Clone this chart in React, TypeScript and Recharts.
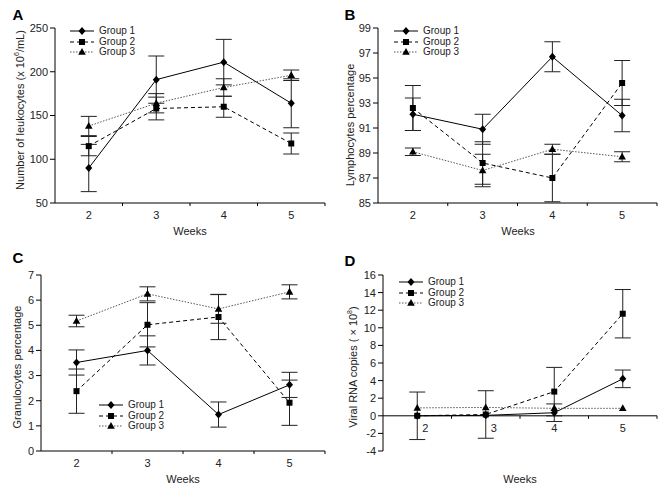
import { ErrorBar, Line, LineChart, ReferenceLine, XAxis, YAxis } from "recharts"

const FONT = "'Liberation Sans', Arial, Helvetica, sans-serif"

const weeks = [2, 3, 4, 5]
const weekTicks = [2, 2.5, 3, 3.5, 4, 4.5, 5, 5.5]

// A: leukocytes
const leukoG1 = [90, 191, 211, 164]
const leukoG1Err = [27, 27, 26, 28]
const leukoG2 = [115, 158, 160, 118]
const leukoG2Err = [11, 13, 12, 12]
const leukoG3 = [138, 164, 182, 196]
const leukoG3Err = [11, 11, 10, 6]
const leukoTicks = [50, 100, 150, 200, 250]

// B: lymphocytes
const lymphoG1 = [92.1, 90.9, 96.7, 92.0]
const lymphoG1Err = [1.3, 1.2, 1.2, 1.3]
const lymphoG2 = [92.6, 88.2, 87.0, 94.6]
const lymphoG2Err = [1.8, 1.7, 1.9, 1.8]
const lymphoG3 = [89.1, 87.6, 89.3, 88.7]
const lymphoG3Err = [0.3, 1.3, 0.4, 0.4]
const lymphoTicks = [85, 87, 89, 91, 93, 95, 97, 99]

// C: granulocytes
const granG1 = [3.52, 4.0, 1.45, 2.63]
const granG1Err = [0.5, 0.58, 0.5, 0.5]
const granG2 = [2.38, 5.02, 5.33, 1.92]
const granG2Err = [0.88, 0.88, 0.9, 0.9]
const granG3 = [5.17, 6.25, 5.65, 6.33]
const granG3Err = [0.23, 0.28, 0.57, 0.28]
const granTicks = [0, 1, 2, 3, 4, 5, 6, 7]

// D: viral RNA
const viralG1 = [0, 0.05, 0.35, 4.2]
const viralG1Err = [null, null, 1.0, 1.0]
const viralG2 = [0, 0.15, 2.75, 11.6]
const viralG2Err = [2.7, 2.7, 2.75, 2.75]
const viralG3 = [0.9, 0.95, 0.85, 0.85]
const viralG3Err = [null, null, null, null]
const viralTicks = [-4, -2, 0, 2, 4, 6, 8, 10, 12, 14, 16]

const groups = [
  { key: "g1", err: "e1", name: "Group 1", shape: "diamond", stroke: "#000", dash: undefined },
  { key: "g2", err: "e2", name: "Group 2", shape: "square", stroke: "#000", dash: "4 3" },
  { key: "g3", err: "e3", name: "Group 3", shape: "triangle", stroke: "#555", dash: "1.5 1.5" },
]

function rows(g1, e1, g2, e2, g3, e3) {
  return weeks.map((w, i) => ({ week: w, g1: g1[i], e1: e1[i], g2: g2[i], e2: e2[i], g3: g3[i], e3: e3[i] }))
}

function Marker({ cx, cy, shape }) {
  if (cx == null || cy == null) return null
  if (shape === "diamond")
    return <path d={`M${cx},${cy - 4}L${cx + 3.5},${cy}L${cx},${cy + 4}L${cx - 3.5},${cy}Z`} fill="#000" />
  if (shape === "square") return <rect x={cx - 3} y={cy - 3} width={6} height={6} fill="#000" />
  return <path d={`M${cx},${cy - 4}L${cx + 3.8},${cy + 2.8}L${cx - 3.8},${cy + 2.8}Z`} fill="#000" />
}

function WeekTick(props) {
  const { x, y, payload, lift = 0, nudge = false } = props
  const v = payload.value
  const yy = y - lift
  if (Number.isInteger(v)) {
    const dx = nudge && v < 4 ? 8 : 0
    return (
      <text x={x + dx} y={yy + 16} textAnchor="middle" fontSize={11} fontFamily={FONT} fill="#222">
        {v}
      </text>
    )
  }
  return <line x1={x} x2={x} y1={yy} y2={yy + 3} stroke="#000" />
}

function Legend({ left, top }) {
  return (
    <div style={{ position: "absolute", left, top }}>
      {groups.map((g) => (
        <div key={g.key} style={{ display: "flex", alignItems: "center", height: 10.5 }}>
          <svg width={24} height={10} style={{ display: "block" }}>
            <line x1={0} x2={24} y1={5} y2={5} stroke={g.stroke} strokeDasharray={g.dash} />
            <Marker cx={12} cy={5} shape={g.shape} />
          </svg>
          <span style={{ marginLeft: 5, fontSize: 10, fontFamily: FONT, color: "#222", lineHeight: "10px" }}>
            {g.name}
          </span>
        </div>
      ))}
    </div>
  )
}

function Panel({ box, plot, data, domain, ticks, zeroAxis = false }) {
  const plotH = plot.bottom - plot.top
  const lift = zeroAxis ? (plotH * (0 - domain[0])) / (domain[1] - domain[0]) : 0
  return (
    <div style={{ position: "absolute", left: box.x, top: box.y }}>
      <LineChart
        width={box.w}
        height={box.h}
        data={data}
        margin={{ top: plot.top - box.y, right: box.x + box.w - plot.right, bottom: 0, left: 0 }}
      >
        <XAxis
          dataKey="week"
          type="number"
          domain={[1.5, 5.5]}
          ticks={weekTicks}
          interval={0}
          height={box.y + box.h - plot.bottom}
          axisLine={zeroAxis ? false : { stroke: "#000" }}
          tickLine={false}
          tickSize={0}
          tickMargin={0}
          tick={<WeekTick lift={lift} nudge={zeroAxis} />}
        />
        <YAxis
          type="number"
          domain={domain}
          ticks={ticks}
          interval={0}
          width={plot.left - box.x}
          axisLine={{ stroke: "#000" }}
          tickLine={{ stroke: "#000" }}
          tickSize={5}
          tickMargin={2}
          tick={{ fontSize: 11, fontFamily: FONT, fill: "#222" }}
        />
        {zeroAxis && <ReferenceLine y={0} stroke="#000" />}
        {groups.map((g) => (
          <Line
            key={g.key}
            dataKey={g.key}
            type="linear"
            stroke={g.stroke}
            strokeWidth={1}
            strokeDasharray={g.dash}
            isAnimationActive={false}
            dot={(p) => <Marker key={`${g.key}-${p.index}`} cx={p.cx} cy={p.cy} shape={g.shape} />}
            activeDot={false}
          >
            <ErrorBar dataKey={g.err} width={8} stroke="#222" strokeWidth={1} direction="y" isAnimationActive={false} />
          </Line>
        ))}
      </LineChart>
    </div>
  )
}

function Abs({ left, top, children, rotate = false, style = {} }) {
  return (
    <div
      style={{
        position: "absolute",
        left,
        top,
        transform: `translate(-50%, -50%)${rotate ? " rotate(-90deg)" : ""}`,
        whiteSpace: "nowrap",
        fontFamily: FONT,
        fontSize: 11,
        color: "#222",
        ...style,
      }}
    >
      {children}
    </div>
  )
}

const sup = { fontSize: 7, verticalAlign: "super", lineHeight: 0 }
const letter = { fontSize: 15, fontWeight: "bold", color: "#000" }

export default function App() {
  return (
    <div style={{ position: "absolute", left: 0, top: 0, width: 664, height: 493, background: "#fff", overflow: "hidden" }}>
      <Panel
        box={{ x: 0, y: 0, w: 332, h: 246 }}
        plot={{ left: 55, top: 28, right: 325, bottom: 203 }}
        data={rows(leukoG1, leukoG1Err, leukoG2, leukoG2Err, leukoG3, leukoG3Err)}
        domain={[50, 250]}
        ticks={leukoTicks}
      />
      <Panel
        box={{ x: 332, y: 0, w: 332, h: 246 }}
        plot={{ left: 378, top: 28, right: 657, bottom: 203 }}
        data={rows(lymphoG1, lymphoG1Err, lymphoG2, lymphoG2Err, lymphoG3, lymphoG3Err)}
        domain={[85, 99]}
        ticks={lymphoTicks}
      />
      <Panel
        box={{ x: 0, y: 246, w: 332, h: 247 }}
        plot={{ left: 41, top: 275, right: 325, bottom: 451 }}
        data={rows(granG1, granG1Err, granG2, granG2Err, granG3, granG3Err)}
        domain={[0, 7]}
        ticks={granTicks}
      />
      <Panel
        box={{ x: 332, y: 246, w: 332, h: 247 }}
        plot={{ left: 383, top: 275, right: 657, bottom: 451 }}
        data={rows(viralG1, viralG1Err, viralG2, viralG2Err, viralG3, viralG3Err)}
        domain={[-4, 16]}
        ticks={viralTicks}
        zeroAxis
      />

      <Legend left={70} top={26} />
      <Legend left={394} top={26} />
      <Legend left={99} top={400} />
      <Legend left={399} top={277} />

      <Abs left={18} top={14} style={letter}>A</Abs>
      <Abs left={350} top={14} style={letter}>B</Abs>
      <Abs left={18} top={257} style={letter}>C</Abs>
      <Abs left={350} top={260} style={letter}>D</Abs>

      <Abs left={20} top={110} rotate>
        Number of leukocytes (x 10<span style={sup}>6</span>/mL)
      </Abs>
      <Abs left={350} top={125} rotate>
        Lymphocytes percentage
      </Abs>
      <Abs left={17} top={367} rotate>
        Granulocytes percentage
      </Abs>
      <Abs left={353} top={367} rotate>
        Viral RNA copies ( × 10<span style={sup}>8</span>)
      </Abs>

      <Abs left={190} top={231}>Weeks</Abs>
      <Abs left={518} top={231}>Weeks</Abs>
      <Abs left={183} top={479}>Weeks</Abs>
      <Abs left={520} top={479}>Weeks</Abs>
    </div>
  )
}
